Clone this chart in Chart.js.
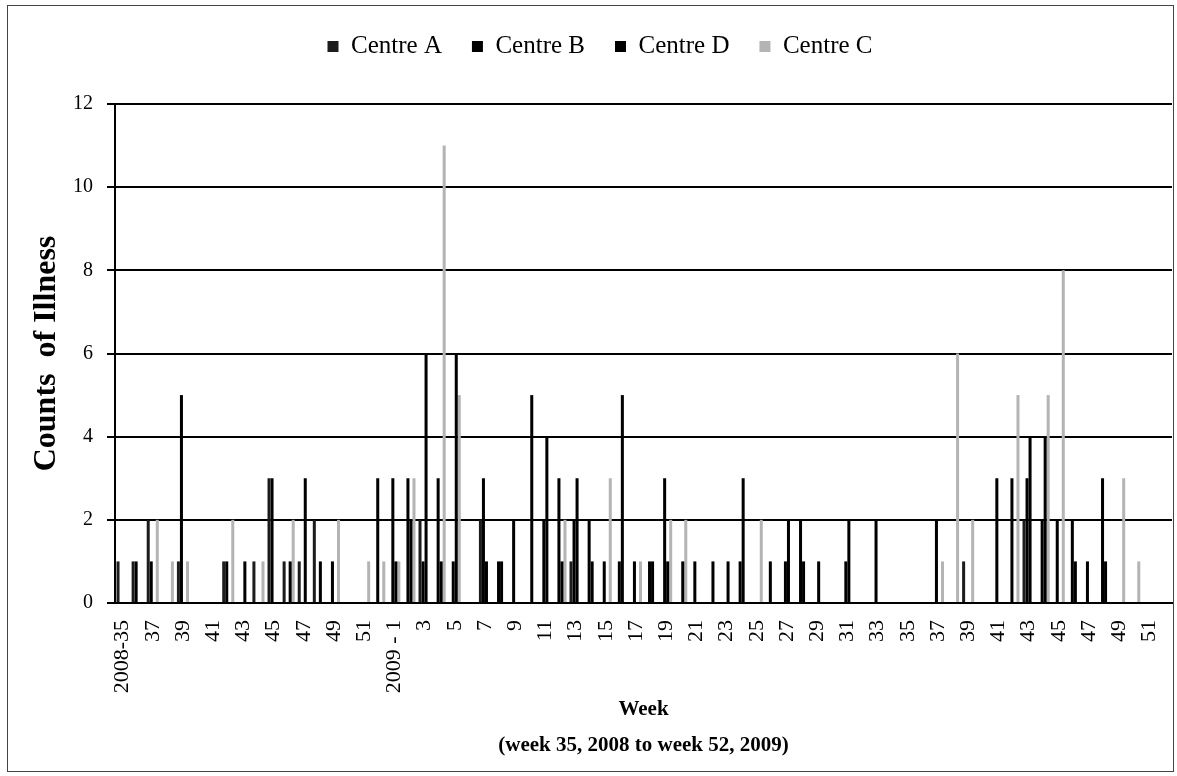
<!DOCTYPE html>
<html>
<head>
<meta charset="utf-8">
<title>Counts of Illness by week</title>
<script src="https://cdn.jsdelivr.net/npm/chart.js@4.4.0/dist/chart.umd.min.js"></script>
<style>
  body { margin: 0; background: #fff; }
  #box { position: relative; width: 1177px; height: 776px; }
  #frame { position: absolute; left: 7px; top: 5px; width: 1165px; height: 765px; border: 1px solid #444; pointer-events: none; }
</style>
</head>
<body>
<div id="box">
  <canvas id="illness" width="1177" height="776"></canvas>
  <div id="frame"></div>
</div>
<script>
// weeks 35-52 of 2008, then weeks 1-52 of 2009
var weeks = ['2008-35','36','37','38','39','40','41','42','43','44','45','46','47','48','49','50','51','52',
  '2009 - 1','2','3','4','5','6','7','8','9','10','11','12','13','14','15','16','17','18','19','20',
  '21','22','23','24','25','26','27','28','29','30','31','32','33','34','35','36','37','38','39','40',
  '41','42','43','44','45','46','47','48','49','50','51','52'];

var centreA = [1,1,2,0,1,0,0,1,0,1, 3,1,1,2,0,0,0,0,0,0, 2,0,0,0,2,0,0,0,0,0, 1,0,0,0,0,0,0,0,0,0,
               0,0,0,0,0,0,0,0,0,0, 0,0,0,0,0,0,1,0,0,0, 2,0,0,0,0,0,0,0,0,0];
var centreB = [0,1,1,0,5,0,0,1,0,0, 3,0,0,0,1,0,0,3,3,3, 1,3,1,0,3,1,2,0,2,3, 2,2,1,1,1,1,3,0,1,0,
               0,1,0,1,1,2,0,0,1,0, 2,0,0,0,2,0,0,0,3,3, 3,2,2,2,1,3,0,0,0,0];
var centreD = [0,0,0,0,0,0,0,0,1,0, 0,1,3,1,0,0,0,0,1,2, 6,1,6,0,1,1,0,5,4,1, 3,1,0,5,0,1,1,1,0,1,
               1,3,0,0,2,1,1,0,2,0, 0,0,0,0,0,0,0,0,0,0, 4,4,0,1,0,1,0,0,0,0];
var centreC = [0,0,2,1,1,0,0,2,0,1, 0,2,0,0,2,0,1,1,1,3, 0,11,5,0,0,0,0,0,0,2, 0,0,3,0,1,0,2,2,0,0,
               0,0,2,0,0,0,0,0,0,0, 0,0,0,0,1,6,2,0,0,5, 0,5,8,0,0,0,3,1,0,0];

var yTicks = [0, 2, 4, 6, 8, 10, 12];

var serif = '"Liberation Serif", "Times New Roman", serif';

var ctx = document.getElementById('illness');

var chart = new Chart(ctx, {
  type: 'bar',
  data: {
    labels: weeks,
    datasets: [
      { label: 'Centre A', data: centreA, backgroundColor: '#1c1c1c' },
      { label: 'Centre B', data: centreB, backgroundColor: '#000000' },
      { label: 'Centre D', data: centreD, backgroundColor: '#000000' },
      { label: 'Centre C', data: centreC, backgroundColor: '#b4b4b4' }
    ]
  },
  options: {
    responsive: false,
    animation: false,
    devicePixelRatio: 1,
    layout: { padding: { left: 28, right: 5, top: 4, bottom: 13 } },
    datasets: { bar: { categoryPercentage: 0.8, barPercentage: 1.0 } },
    plugins: {
      legend: {
        position: 'top',
        labels: {
          color: '#000',
          font: { family: serif, size: 25 },
          boxWidth: 11,
          boxHeight: 11,
          padding: 30
        }
      },
      // empty spacer between legend and plot
      subtitle: {
        display: true,
        text: '',
        weight: 500,
        font: { size: 10, lineHeight: 1 },
        padding: { top: 12, bottom: 13 }
      },
      tooltip: { enabled: false }
    },
    scales: {
      x: {
        grid: { display: false },
        border: { display: true, color: '#000', width: 2 },
        ticks: {
          autoSkip: false,
          maxRotation: 90,
          minRotation: 90,
          padding: 9,
          color: '#000',
          font: { family: serif, size: 22 },
          callback: function(v, i) {
            return i % 2 === 0 ? this.getLabelForValue(v) : '';
          }
        },
        title: {
          display: true,
          text: ['Week', '(week 35, 2008 to week 52, 2009)'],
          color: '#000',
          font: { family: serif, size: 21, weight: 'bold', lineHeight: 1.7 },
          padding: 0
        },
        afterFit: function(s) {
          s.height = 160;
          s.paddingRight = 0;
        }
      },
      y: {
        min: 0,
        max: 12,
        afterBuildTicks: function(s) {
          s.ticks = yTicks.map(function(v) { return { value: v }; });
        },
        grid: { color: '#000', lineWidth: 2, tickLength: 8 },
        border: { display: true, color: '#000', width: 2 },
        ticks: {
          padding: 14,
          color: '#000',
          font: { family: serif, size: 20 }
        },
        title: {
          display: true,
          text: 'Counts  of Illness',
          color: '#000',
          font: { family: serif, size: 32, weight: 'bold' },
          padding: 0
        },
        afterFit: function(s) { s.width = 115 - 28; }
      }
    }
  }
});
</script>
</body>
</html>
